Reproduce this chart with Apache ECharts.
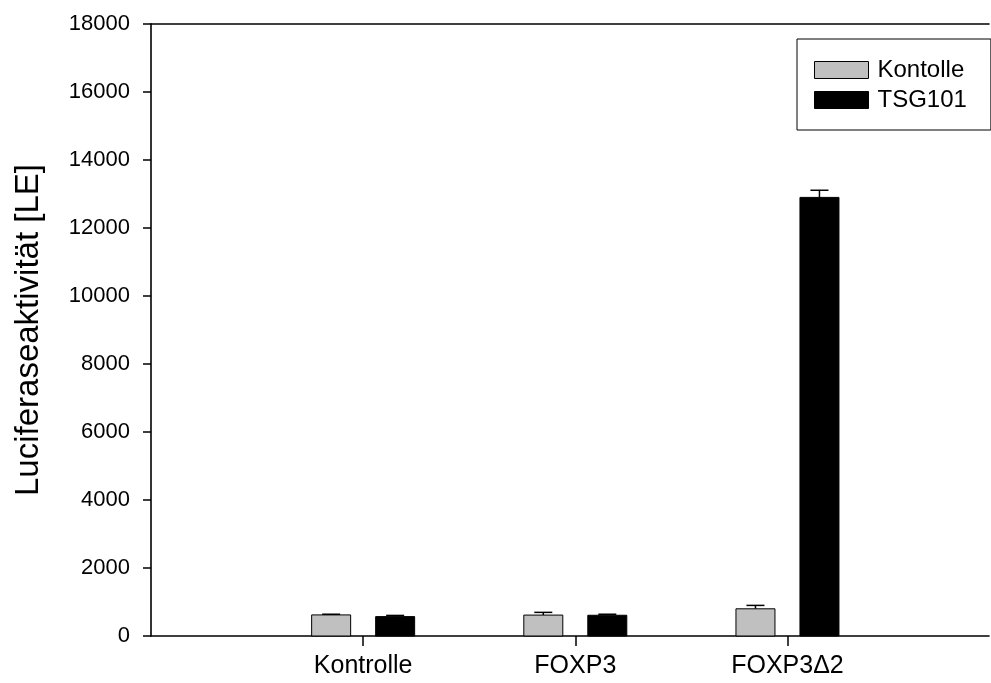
<!DOCTYPE html>
<html>
<head>
<meta charset="utf-8">
<script src="https://cdn.jsdelivr.net/npm/echarts@6/dist/echarts.min.js"></script>
<style>
html,body{margin:0;padding:0;background:#fff;}
#chart{width:991px;height:683px;}
</style>
</head>
<body>
<div id="chart"></div>
<script>
const categories = ['Kontrolle', 'FOXP3', 'FOXP3\u03942'];
const positions = [1, 2, 3];
const kontolleValues = [620, 615, 800];
const kontolleErrors = [20, 80, 100];
const tsgValues = [570, 610, 12900];
const tsgErrors = [35, 30, 210];
const seriesNames = ['Kontolle', 'TSG101'];
const yTitle = 'Luciferaseaktivit\u00e4t [LE]';

const FONT = "'Liberation Sans', Arial, sans-serif";

function makeRender(offsetPx, widthPx, fill, stroke) {
  return function (params, api) {
    const x = api.value(0), y = api.value(1), e = api.value(2);
    const base = api.coord([x, 0]);
    const top = api.coord([x, y]);
    const errTop = api.coord([x, y + e]);
    const cx = base[0] + offsetPx;
    return {
      type: 'group',
      children: [
        { type: 'line', shape: { x1: cx, y1: top[1], x2: cx, y2: errTop[1] }, style: { stroke: '#000', lineWidth: 1.5 } },
        { type: 'line', shape: { x1: cx - 9, y1: errTop[1], x2: cx + 9, y2: errTop[1] }, style: { stroke: '#000', lineWidth: 1.5 } },
        { type: 'rect', shape: { x: cx - widthPx / 2, y: top[1], width: widthPx, height: base[1] - top[1] }, style: { fill: fill, stroke: stroke, lineWidth: 1 } }
      ]
    };
  };
}

function build(vals, errs) {
  return positions.map((p, i) => [p, vals[i], errs[i]]);
}

const chart = echarts.init(document.getElementById('chart'), null, { renderer: 'canvas' });
chart.setOption({
  backgroundColor: '#fff',
  animation: false,
  textStyle: { fontFamily: FONT },
  grid: { left: 151, right: 2, top: 24, bottom: 47, containLabel: false },
  legend: {
    orient: 'vertical',
    left: 797,
    top: 39,
    padding: [19, 24, 18, 17],
    borderColor: '#000',
    borderWidth: 1,
    itemWidth: 54,
    itemHeight: 17,
    itemGap: 6,
    icon: 'rect',
    textStyle: { fontFamily: FONT, fontSize: 24, color: '#000', padding: [0, 0, 0, 4] },
    data: [
      { name: seriesNames[0], itemStyle: { color: '#c0c0c0', borderColor: '#000', borderWidth: 1 } },
      { name: seriesNames[1], itemStyle: { color: '#000', borderColor: '#000', borderWidth: 1 } }
    ]
  },
  xAxis: [
    {
      type: 'value',
      min: 0,
      max: 3.95,
      splitLine: { show: false },
      axisLine: { show: true, onZero: false, lineStyle: { color: '#000', width: 1.6 } },
      axisTick: { show: true, customValues: positions, length: 10, inside: false, lineStyle: { color: '#000', width: 1.5 } },
      axisLabel: {
        customValues: positions,
        margin: 18,
        fontSize: 25,
        color: '#000',
        fontFamily: FONT,
        formatter: function (v) { const i = positions.indexOf(v); return i >= 0 ? categories[i] : ''; }
      }
    },
    {
      type: 'value',
      position: 'top',
      min: 0,
      max: 3.95,
      splitLine: { show: false },
      axisLine: { show: true, onZero: false, lineStyle: { color: '#000', width: 1.6 } },
      axisTick: { show: false },
      axisLabel: { show: false }
    }
  ],
  yAxis: {
    type: 'value',
    min: 0,
    max: 18000,
    interval: 2000,
    splitLine: { show: false },
    axisLine: { show: true, lineStyle: { color: '#000', width: 1.6 } },
    axisTick: { show: true, length: 8, inside: false, lineStyle: { color: '#000', width: 1.5 } },
    axisLabel: { margin: 21, fontSize: 22, color: '#000', fontFamily: FONT, formatter: function (v) { return String(v); } },
    name: yTitle,
    nameLocation: 'middle',
    nameRotate: 90,
    nameGap: 106,
    nameTextStyle: { fontSize: 33, color: '#000', fontFamily: FONT }
  },
  series: [
    {
      name: seriesNames[0],
      type: 'custom',
      xAxisIndex: 0,
      itemStyle: { color: '#c0c0c0' },
      renderItem: makeRender(-32, 39, '#c0c0c0', '#000'),
      data: build(kontolleValues, kontolleErrors)
    },
    {
      name: seriesNames[1],
      type: 'custom',
      xAxisIndex: 0,
      itemStyle: { color: '#000' },
      renderItem: makeRender(32, 39, '#000', '#000'),
      data: build(tsgValues, tsgErrors)
    }
  ]
});
</script>
</body>
</html>
